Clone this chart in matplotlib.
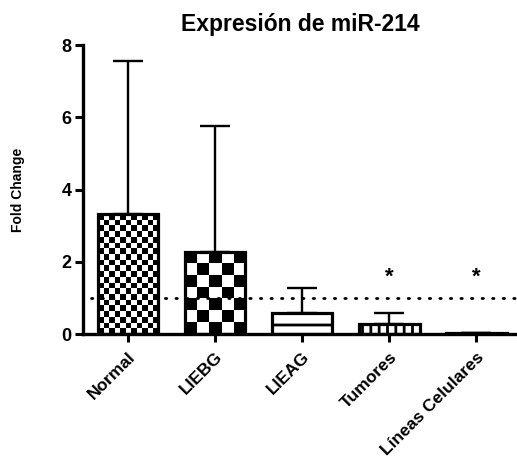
import matplotlib
matplotlib.use("Agg")
import matplotlib.pyplot as plt
import numpy as np

# fold change of miR-214 per sample group (mean, upper SD)
groups = ["Normal", "LIEBG", "LIEAG", "Tumores", "Líneas Celulares"]
means = [3.32, 2.28, 0.58, 0.28, 0.03]
upper_err = [4.23, 3.47, 0.70, 0.30, 0.0]
signif = [False, False, False, True, True]
star_y = 1.57
ref_level = 1.0

plt.rcParams['font.family'] = ['Liberation Sans', 'DejaVu Sans']
plt.rcParams['hatch.linewidth'] = 2.0

fig = plt.figure(figsize=(5.17, 4.66), dpi=100)
ax = fig.add_axes([0.16, 0.283, 0.84, 0.62])

x = np.arange(len(groups))
width = 0.70

ax.set_xlim(-0.52, 4.47)
ax.set_ylim(0, 8)

# error bars (only the upper half is shown)
ax.errorbar(x, means, yerr=[np.zeros(len(x)), upper_err], fmt='none',
            ecolor='black', elinewidth=1.7, capsize=11, capthick=1.7, zorder=1)

hatches = [None, None, '-', '||', None]
bars = ax.bar(x, means, width=width, facecolor='white', edgecolor='black',
              linewidth=2.3, zorder=2)
for b, h in zip(bars, hatches):
    if h:
        b.set_hatch(h)

# checkerboard fills for the first two groups
fig.canvas.draw()
cells = {0: 5.8, 1: 11.5}
for i, cell in cells.items():
    b = bars[i]
    b.set_facecolor('none')
    x0, x1 = x[i] - width / 2, x[i] + width / 2
    p0 = ax.transData.transform((x0, 0))
    p1 = ax.transData.transform((x1, means[i]))
    nx = max(1, int(round((p1[0] - p0[0]) / cell)))
    ny = max(1, int(round((p1[1] - p0[1]) / cell)))
    board = (np.add.outer(np.arange(ny), np.arange(nx)) % 2).astype(float)
    im = ax.imshow(board, cmap='gray', extent=(x0, x1, 0, means[i]),
                   aspect='auto', interpolation='nearest', zorder=1.5)
    im.set_clip_path(b)

ax.set_xlim(-0.52, 4.47)
ax.set_ylim(0, 8)

# reference line at fold change = 1
ax.plot([-0.42, 4.47], [ref_level, ref_level], color='black', linewidth=2.0,
        dashes=(0.5, 3.3), dash_capstyle='round', zorder=3, clip_on=False)

for xi, s in zip(x, signif):
    if s:
        ax.text(xi, star_y, '*', ha='center', va='center', fontsize=16,
                fontweight='bold')

ax.spines['top'].set_visible(False)
ax.spines['right'].set_visible(False)
ax.spines['left'].set_linewidth(2.4)
ax.spines['bottom'].set_linewidth(2.4)

ax.set_yticks([0, 2, 4, 6, 8])
ax.set_xticks(x)
ax.set_xticklabels(groups, rotation=45, ha='right', rotation_mode='anchor',
                   fontsize=12.5, fontweight='bold')
for lbl in ax.get_yticklabels():
    lbl.set_fontweight('bold')
    lbl.set_fontsize(13)
ax.tick_params(axis='both', direction='out', length=6, width=2.2, pad=2)
ax.tick_params(axis='x', pad=5)

ax.set_ylabel('Fold Change', fontsize=10, fontweight='bold')
ax.yaxis.set_label_coords(-0.134, 0.5)
ax.set_title('Expresión de miR-214', fontsize=16.5, fontweight='bold', pad=10)

fig.savefig('out.png', dpi=100)
